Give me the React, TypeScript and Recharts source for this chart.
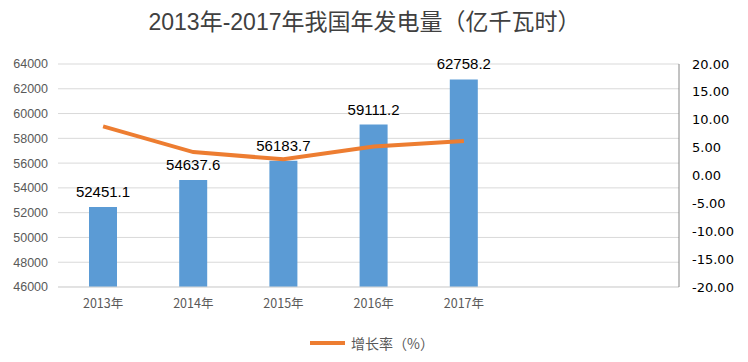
import React from "react";
import {
  ComposedChart,
  Bar,
  Line,
  XAxis,
  YAxis,
  CartesianGrid,
  Legend,
  LabelList,
} from "recharts";

const years = ["2013年", "2014年", "2015年", "2016年", "2017年"];
const generation = [52451.1, 54637.6, 56183.7, 59111.2, 62758.2];
const growthRate = [8.8, 4.2, 2.9, 5.2, 6.2];
const leftTicks = [46000, 48000, 50000, 52000, 54000, 56000, 58000, 60000, 62000, 64000];
const rightTicks = [-20, -15, -10, -5, 0, 5, 10, 15, 20];

const data = years.map((y, i) => ({
  year: y,
  gen: generation[i],
  rate: growthRate[i],
}));

const LegendContent = () => (
  <div
    style={{
      display: "flex",
      alignItems: "center",
      justifyContent: "center",
      height: 20,
      fontFamily: "'Noto Sans CJK SC', sans-serif",
      fontSize: 14,
      color: "#595959",
    }}
  >
    <span
      style={{
        display: "inline-block",
        width: 35,
        height: 4,
        background: "#ED7D31",
        marginRight: 6,
      }}
    />
    <span>增长率（%）</span>
  </div>
);

export default function App() {
  return (
    <div
      style={{
        position: "absolute",
        left: 0,
        top: 0,
        width: 748,
        height: 362,
        background: "#fff",
      }}
    >
      <div
        style={{
          position: "absolute",
          left: 0,
          top: 6,
          width: 729,
          textAlign: "center",
          fontFamily: "'Liberation Sans', 'Noto Sans CJK SC', sans-serif",
          fontSize: 23,
          lineHeight: "32px",
          color: "#404040",
          zIndex: 2,
        }}
      >
        2013年-2017年我国年发电量（亿千瓦时）
      </div>
      <ComposedChart
        width={748}
        height={362}
        data={data}
        margin={{ top: 64, right: 0, bottom: 25, left: 0 }}
      >
        <CartesianGrid vertical={false} stroke="#D9D9D9" yAxisId="left" />
        <XAxis
          dataKey="year"
          padding={{ left: 0, right: 170 }}
          height={30}
          tickLine={false}
          tickSize={0}
          tickMargin={12}
          axisLine={{ stroke: "#D9D9D9" }}
          tick={{
            fill: "#595959",
            fontSize: 12.5,
            fontFamily: "'Noto Sans CJK SC', sans-serif",
          }}
        />
        <YAxis
          yAxisId="left"
          orientation="left"
          width={58}
          domain={[46000, 64000]}
          ticks={leftTicks}
          interval={0}
          axisLine={false}
          tickLine={false}
          tickSize={0}
          tickMargin={10}
          tick={{
            fill: "#595959",
            fontSize: 12.5,
            fontFamily: "'Liberation Sans', sans-serif",
          }}
        />
        <YAxis
          yAxisId="right"
          orientation="right"
          width={69}
          domain={[-20, 20]}
          ticks={rightTicks}
          interval={0}
          axisLine={{ stroke: "#868686" }}
          tickLine={false}
          tickSize={0}
          tickMargin={13}
          tickFormatter={(v: number) => v.toFixed(2)}
          tick={{
            fill: "#000",
            fontSize: 13,
            fontFamily: "'DejaVu Sans', sans-serif",
          }}
        />
        <Legend
          verticalAlign="bottom"
          height={20}
          content={<LegendContent />}
          wrapperStyle={{ top: 333, bottom: "auto", left: 0, width: 744 }}
        />
        <Bar
          yAxisId="left"
          dataKey="gen"
          fill="#5B9BD5"
          barSize={28}
          isAnimationActive={false}
          legendType="none"
        >
          <LabelList
            dataKey="gen"
            position="top"
            offset={10}
            fill="#000"
            fontSize={15}
            fontFamily="'Liberation Sans', sans-serif"
          />
        </Bar>
        <Line
          yAxisId="right"
          dataKey="rate"
          stroke="#ED7D31"
          strokeWidth={4}
          dot={false}
          activeDot={false}
          isAnimationActive={false}
        />
      </ComposedChart>
    </div>
  );
}
